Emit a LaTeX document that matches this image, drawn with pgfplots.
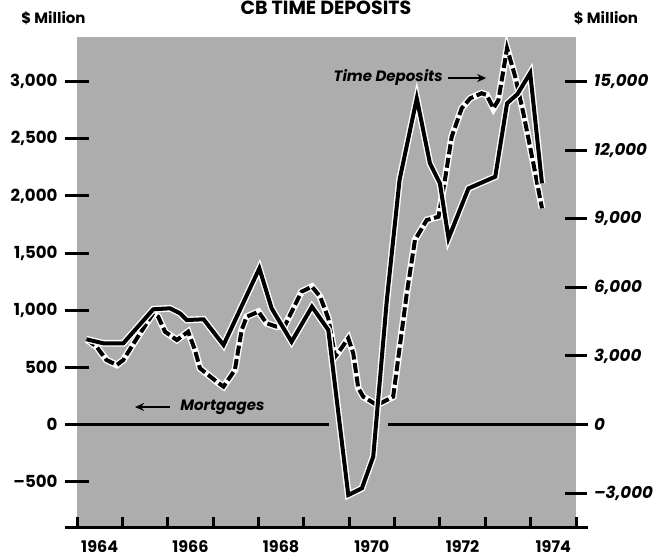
\documentclass[border=0pt]{standalone}
\usepackage{fontspec}
\setmainfont{Poppins}
\usepackage{pgfplots}
\pgfplotsset{compat=1.18}
\usetikzlibrary{arrows.meta}
\definecolor{bg}{gray}{0.68}
\begin{document}
\begin{tikzpicture}
\useasboundingbox (-38.5pt,-15pt) rectangle (295.5pt,263.5pt);
\pgfplotsset{
  base/.style={
    at={(0pt,0pt)}, anchor=south west, scale only axis,
    width=249.5pt, height=245pt,
    xmin=1964, xmax=1975,
    clip=false,
  }
}
% left axis: mortgages (dashed)
\begin{axis}[base,
  axis background/.style={fill=bg},
  ymin=-896.8, ymax=3390.2,
  axis x line=none, axis y line*=left,
  y axis line style={draw=none},
  scaled y ticks=false,
  ytick={-500,0,500,1000,1500,2000,2500,3000},
  yticklabels={{--500},0,500,{1,000},{1,500},{2,000},{2,500},{3,000}},
  tick align=center, major tick length=12.5pt,
  every tick/.style={black, line width=1.5pt},
  yticklabel style={font=\bfseries\fontsize{8.3}{10}\selectfont, anchor=east},
]
\draw[line width=1.5pt] (axis cs:1963.735,0) -- (axis cs:1969.557,0);
\draw[line width=1.5pt] (axis cs:1970.858,0) -- (axis cs:1975.268,0);
\addplot[black, line width=2pt, dash pattern=on 5pt off 1.8pt,
  preaction={draw=white, line width=3.4pt, solid}] coordinates {
(1964.21,745)(1964.43,681)(1964.65,564)(1964.88,521)(1965.02,564)(1965.32,754)
(1965.68,973)(1965.79,943)(1965.94,812)(1966.20,739)(1966.45,812)(1966.60,652)
(1966.71,492)(1967.08,374)(1967.23,331)(1967.48,477)(1967.63,827)(1967.74,943)
(1968.00,987)(1968.18,885)(1968.40,856)(1968.59,871)(1968.95,1162)(1969.18,1206)
(1969.36,1118)(1969.54,929)(1969.69,593)(1969.80,652)(1969.98,754)(1970.09,623)
(1970.20,319)(1970.31,243)(1970.61,171)(1970.83,214)(1970.97,243)(1971.27,1148)
(1971.45,1614)(1971.71,1789)(1971.97,1818)(1972.11,2139)(1972.26,2518)(1972.48,2766)
(1972.67,2854)(1972.92,2898)(1973.03,2883)(1973.18,2766)(1973.29,2839)(1973.48,3291)
(1973.66,3043)(1973.84,2723)(1974.06,2285)(1974.25,1892)
};
\node[anchor=east, font=\bfseries\itshape\fontsize{7.5}{9}\selectfont, inner sep=0pt] at (axis cs:1972.07,3040) {Time Deposits};
\draw[line width=1.2pt, -{Stealth[length=4.5pt,width=4pt]}] (axis cs:1972.18,3031) -- (axis cs:1973.02,3031);
\node[anchor=west, font=\bfseries\itshape\fontsize{7.5}{9}\selectfont, inner sep=0pt] at (axis cs:1966.27,153) {Mortgages};
\draw[line width=1.2pt, -{Stealth[length=4.5pt,width=4pt]}] (axis cs:1966.05,153) -- (axis cs:1965.28,153);
\end{axis}
% right axis: time deposits (solid)
\begin{axis}[base,
  ymin=-4484, ymax=16951,
  axis x line=none, axis y line*=right,
  y axis line style={draw=none},
  scaled y ticks=false,
  ytick={-3000,0,3000,6000,9000,12000,15000},
  yticklabels={{--3,000},0,{3,000},{6,000},{9,000},{12,000},{15,000}},
  tick align=center, major tick length=11pt,
  every tick/.style={black, line width=1.5pt},
  yticklabel style={font=\bfseries\itshape\fontsize{8.3}{10}\selectfont, anchor=west},
]
\addplot[black, line width=2pt, preaction={draw=white, line width=3.4pt}] coordinates {
(1964.21,3727)(1964.58,3552)(1965.02,3552)(1965.68,5039)(1966.05,5083)(1966.27,4864)
(1966.42,4571)(1966.79,4601)(1967.23,3477)(1968.02,6832)(1968.29,5083)(1968.73,3622)
(1969.18,5153)(1969.54,4133)(1969.98,-3084)(1970.28,-2791)(1970.53,-1408)(1970.83,5446)
(1971.11,10694)(1971.49,14268)(1971.78,11425)(1972.00,10550)(1972.19,8144)(1972.63,10331)
(1973.22,10839)(1973.48,14049)(1973.71,14456)(1973.99,15375)(1974.25,10550)
};
\end{axis}
% x axis
\begin{axis}[base,
  ymin=0, ymax=1,
  axis y line=none, axis x line=bottom,
  x axis line style={draw=none},
  xtick={1964,1965,...,1975}, xticklabels={},
  tick align=inside, major tick length=5pt,
  every tick/.style={black, line width=1.5pt},
  extra x ticks={1964.5,1966.5,1968.5,1970.5,1972.5,1974.5},
  extra x tick labels={1964,1966,1968,1970,1972,1974},
  extra x tick style={major tick length=0pt},
  xticklabel style={font=\bfseries\fontsize{8}{10}\selectfont, yshift=-3pt},
]
\draw[line width=1.5pt] (axis cs:1963.735,0) -- (axis cs:1975.268,0);
\end{axis}
\node[font=\bfseries\fontsize{9.5}{11}\selectfont, anchor=base] at (124.5pt,256pt) {CB TIME DEPOSITS};
\node[font=\bfseries\fontsize{7.5}{9}\selectfont, anchor=base] at (-11.75pt,251.5pt) {\$ Million};
\node[font=\bfseries\fontsize{7.5}{9}\selectfont, anchor=base] at (264.5pt,251.5pt) {\$ Million};
\end{tikzpicture}
\end{document}
